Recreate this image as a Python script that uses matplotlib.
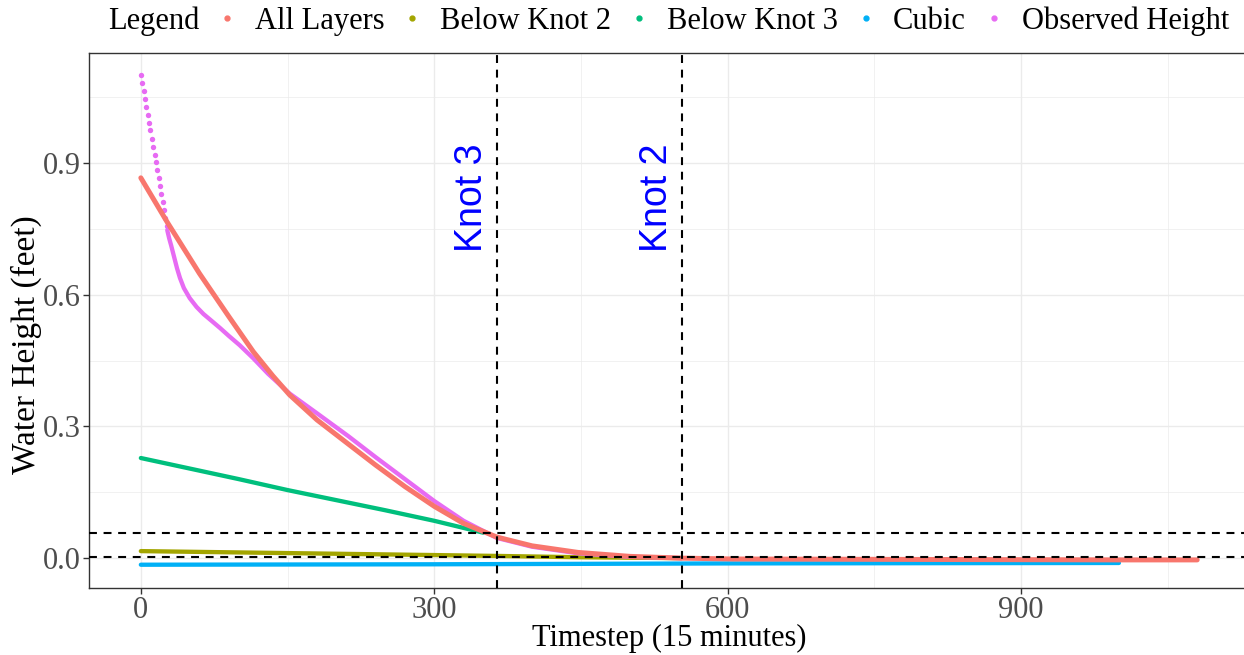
import matplotlib.pyplot as plt
from matplotlib.lines import Line2D

# values
all_layers_x = [0, 27, 60, 90, 115, 135, 152, 180, 212, 240, 270, 300, 330, 364, 400, 447, 500, 553, 606, 800, 1000, 1080]
all_layers_y = [0.866, 0.765, 0.648, 0.55, 0.47, 0.415, 0.372, 0.315, 0.26, 0.212, 0.163, 0.118, 0.079, 0.048,
                0.028, 0.013, 0.004, 0.0, -0.002, -0.003, -0.004, -0.004]

below_knot2_x = [0, 100, 200, 300, 365, 450, 553]
below_knot2_y = [0.016, 0.013, 0.010, 0.007, 0.005, 0.002, 0.0]

below_knot3_x = [0, 100, 150, 250, 300, 350]
below_knot3_y = [0.228, 0.18, 0.155, 0.109, 0.085, 0.058]

cubic_x = [0, 300, 600, 1000]
cubic_y = [-0.015, -0.014, -0.012, -0.011]

# observed: separate dots at the steep start, then a dense run
obs_dot_x = [0, 1.4, 2.8, 4.2, 5.6, 7, 8.4, 9.8, 11.2, 12.6, 14, 15.4, 16.8, 18.2, 19.6, 21, 22.4, 23.8, 25.2, 26.6]
obs_dot_y = [1.100, 1.082, 1.064, 1.046, 1.028, 1.010, 0.992, 0.974, 0.955, 0.937, 0.919, 0.901, 0.883,
             0.865, 0.847, 0.829, 0.811, 0.793, 0.775, 0.757]
obs_x = [27, 29, 31, 34, 37, 40, 44, 50, 57, 64, 72, 81, 90, 101, 115, 130, 152, 180, 212, 240, 270,
         300, 330, 364, 400, 447, 500, 553]
obs_y = [0.747, 0.728, 0.712, 0.686, 0.66, 0.638, 0.615, 0.592, 0.572, 0.556, 0.541, 0.524, 0.506,
         0.485, 0.455, 0.42, 0.375, 0.33, 0.278, 0.23, 0.18, 0.13, 0.085, 0.046, 0.026, 0.011, 0.003, 0.0]

knots_x = [364, 553]
knot_labels = ['Knot 3', 'Knot 2']
hlines_y = [0.057, 0.003]

series_names = ['All Layers', 'Below Knot 2', 'Below Knot 3', 'Cubic', 'Observed Height']
colors = ['#F8766D', '#A3A500', '#00BF7D', '#00B0F6', '#E76BF3']

plt.rcParams['font.family'] = ['Liberation Serif', 'DejaVu Serif']

fig = plt.figure(figsize=(12.44, 6.55), dpi=100)
ax = fig.add_axes([89 / 1244, 1 - 588 / 655, (1250 - 89) / 1244, (588 - 52.7) / 655])

grid_c = '#EBEBEB'
for v in [0, 300, 600, 900]:
    ax.axvline(v, color=grid_c, lw=1.0, zorder=0)
for v in [150, 450, 750, 1050]:
    ax.axvline(v, color=grid_c, lw=0.5, zorder=0)
for v in [0, 0.3, 0.6, 0.9]:
    ax.axhline(v, color=grid_c, lw=1.0, zorder=0)
for v in [0.15, 0.45, 0.75, 1.05]:
    ax.axhline(v, color=grid_c, lw=0.5, zorder=0)

lw = 3.1
ax.plot(cubic_x, cubic_y, color=colors[3], lw=lw, solid_capstyle='round', zorder=2)
ax.plot(below_knot2_x, below_knot2_y, color=colors[1], lw=lw, solid_capstyle='round', zorder=2)
ax.plot(below_knot3_x, below_knot3_y, color=colors[2], lw=lw, solid_capstyle='round', zorder=2)
ax.scatter(obs_dot_x, obs_dot_y, color=colors[4], s=15, lw=0, zorder=3)
ax.plot(obs_x, obs_y, color=colors[4], lw=lw, solid_capstyle='round', solid_joinstyle='round', zorder=3)
ax.plot(all_layers_x, all_layers_y, color=colors[0], lw=3.6, solid_capstyle='round',
        solid_joinstyle='round', zorder=4)

dash = (0, (3.8, 3.2))
for k, lab in zip(knots_x, knot_labels):
    ax.axvline(k, color='black', lw=1.5, ls=dash, zorder=5)
    ax.text(k - 25, 0.821, lab, rotation=90, color='blue', fontsize=27,
            family=['Liberation Sans', 'DejaVu Sans'], ha='center', va='center', zorder=6)
for h in hlines_y:
    ax.axhline(h, color='black', lw=1.5, ls=dash, zorder=5)

ax.set_xlim(-53, 1134)
ax.set_ylim(-0.068, 1.151)
ax.set_xticks([0, 300, 600, 900])
ax.set_yticks([0.0, 0.3, 0.6, 0.9])
ax.set_yticklabels(['0.0', '0.3', '0.6', '0.9'])
ax.tick_params(labelsize=22, labelcolor='#4D4D4D', color='#333333', length=4, width=1, pad=2)
for s in ax.spines.values():
    s.set_color('#333333')
    s.set_linewidth(1.0)
ax.set_xlabel('Timestep (15 minutes)', fontsize=22, labelpad=-1)
ax.set_ylabel('Water Height (feet)', fontsize=24)
ax.yaxis.set_label_coords((42 - 89) / (1250 - 89), 0.455)

handles = [Line2D([], [], ls='', marker='o', markersize=3.5, color=c) for c in colors]
fig.text(108 / 1244, 1 - 21 / 655, 'Legend', fontsize=22, ha='left', va='center')
fig.legend(handles, series_names, loc='center left', bbox_to_anchor=(218 / 1244, 1 - 21 / 655),
           ncol=5, frameon=False, fontsize=22, handlelength=0.6, handletextpad=0.6,
           columnspacing=0.62, borderpad=0, borderaxespad=0)

fig.savefig('out.png', dpi=100)
